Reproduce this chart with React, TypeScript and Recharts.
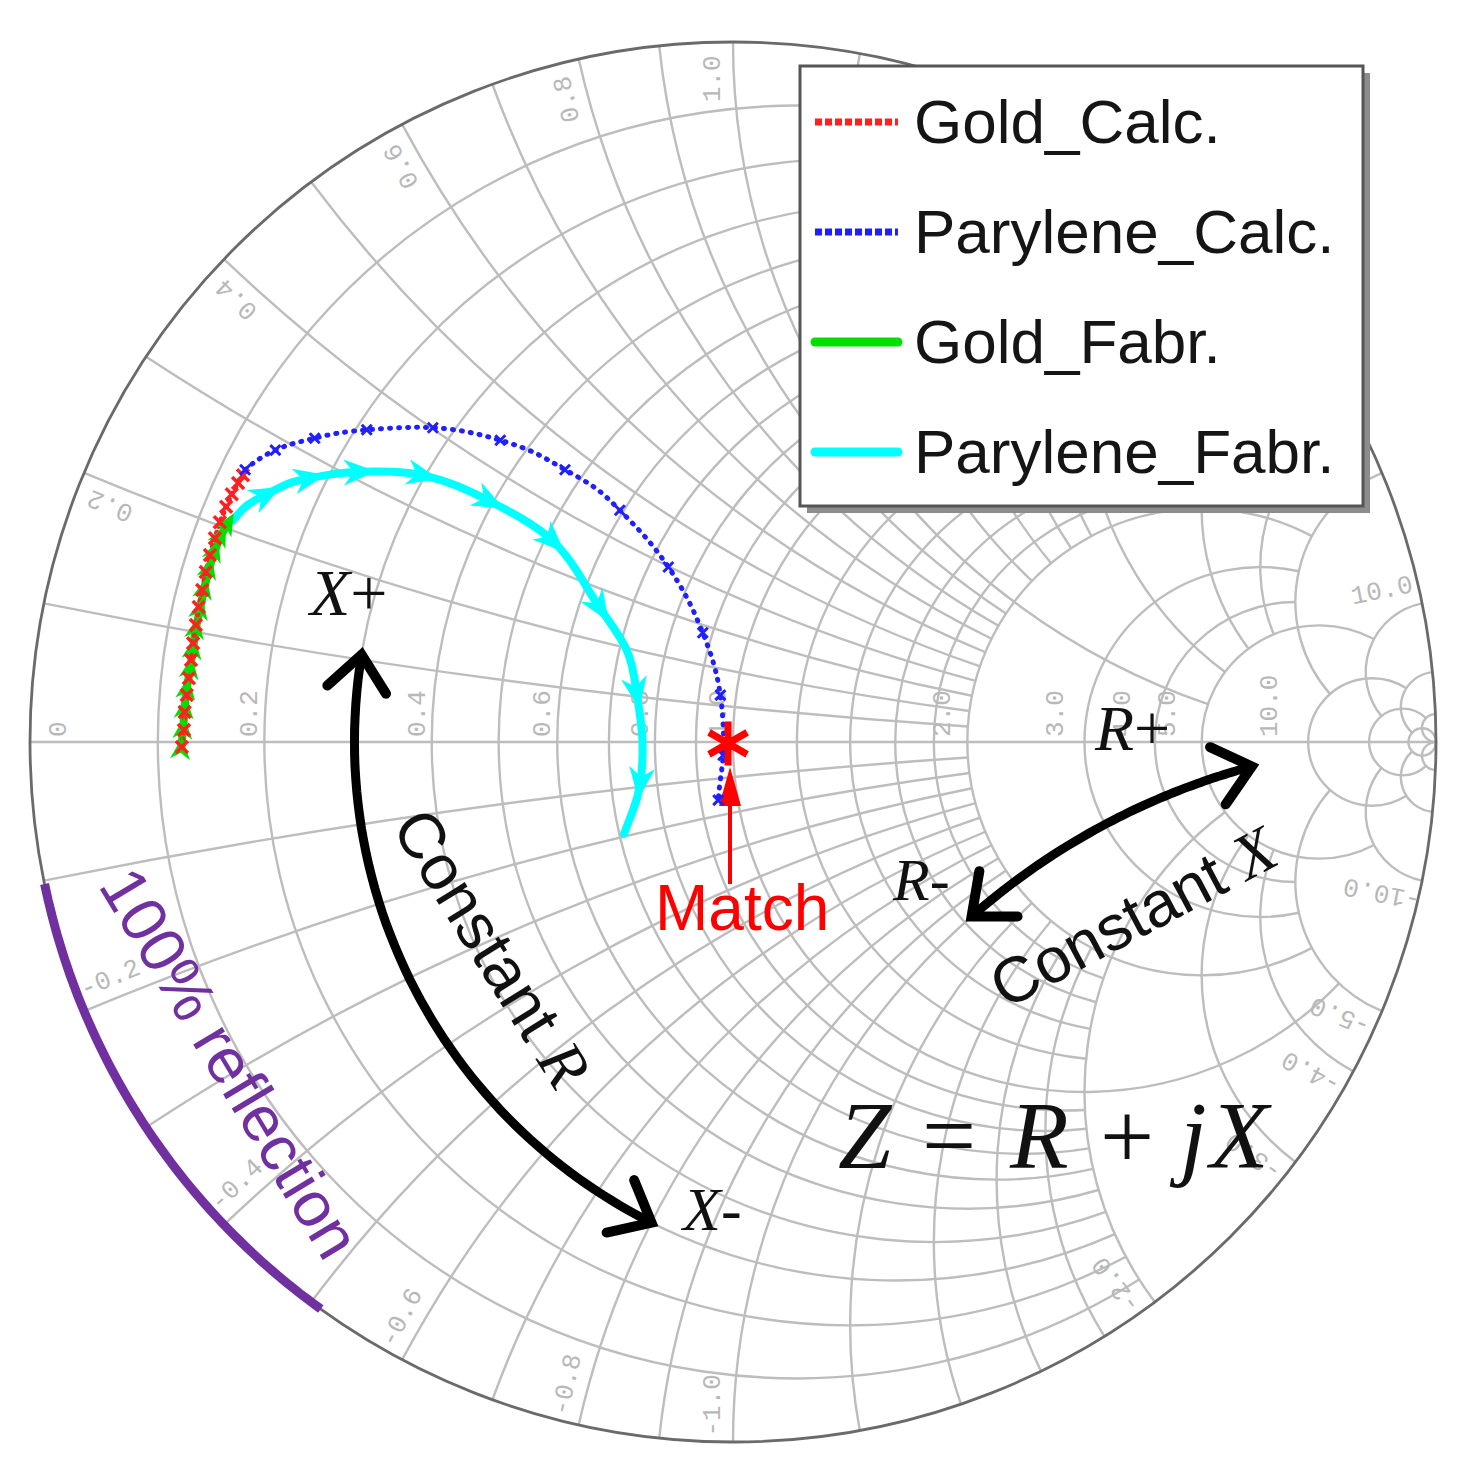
import React from "react";
import * as Recharts from "recharts";
import { ComposedChart, Line, Scatter, XAxis, YAxis, Customized } from "recharts";

const W = 1463;
const H = 1476;
const MARGIN = { top: 42, right: 27, bottom: 34, left: 30 };
const PW = W - MARGIN.left - MARGIN.right;
const PH = H - MARGIN.top - MARGIN.bottom;

// reflection coefficient points [re, im]
const goldCalc = [
  [-0.784, -0.007], [-0.781, 0.017], [-0.78, 0.043], [-0.777, 0.067], [-0.774, 0.091],
  [-0.771, 0.117], [-0.768, 0.141], [-0.764, 0.167], [-0.76, 0.193], [-0.755, 0.217],
  [-0.75, 0.243], [-0.744, 0.267], [-0.737, 0.291], [-0.73, 0.314], [-0.721, 0.336],
  [-0.713, 0.354], [-0.704, 0.37], [-0.697, 0.381],
];
const parylCalc = [
  [-0.694, 0.389], [-0.676, 0.403], [-0.651, 0.417], [-0.623, 0.427], [-0.595, 0.434],
  [-0.563, 0.441], [-0.521, 0.446], [-0.474, 0.449], [-0.427, 0.449], [-0.378, 0.443],
  [-0.331, 0.431], [-0.284, 0.414], [-0.239, 0.389], [-0.196, 0.363], [-0.161, 0.331],
  [-0.125, 0.293], [-0.092, 0.25], [-0.064, 0.203], [-0.043, 0.156], [-0.027, 0.11],
  [-0.018, 0.067], [-0.014, 0.024], [-0.014, -0.019], [-0.018, -0.054], [-0.021, -0.083],
];
const goldFabr = [
  [-0.785, -0.009], [-0.782, 0.02], [-0.78, 0.049], [-0.777, 0.077], [-0.772, 0.106],
  [-0.768, 0.134], [-0.764, 0.163], [-0.758, 0.191], [-0.752, 0.22], [-0.745, 0.249],
  [-0.737, 0.274], [-0.728, 0.296], [-0.718, 0.313],
];
const parylFabr = [
  [-0.711, 0.317], [-0.69, 0.339], [-0.663, 0.354], [-0.633, 0.369], [-0.602, 0.377],
  [-0.566, 0.383], [-0.531, 0.386], [-0.485, 0.386], [-0.441, 0.381], [-0.393, 0.366],
  [-0.346, 0.344], [-0.3, 0.319], [-0.256, 0.287], [-0.222, 0.244], [-0.189, 0.191],
  [-0.151, 0.131], [-0.137, 0.07], [-0.129, 0.006], [-0.132, -0.059], [-0.142, -0.097],
  [-0.155, -0.131],
];
const matchPoint = [[-0.007, -0.002]];

const seriesNames = ["Gold_Calc.", "Parylene_Calc.", "Gold_Fabr.", "Parylene_Fabr."];
const seriesColors = ["#ff2020", "#2020ff", "#00e000", "#00ffff"];
const seriesDotted = [true, true, false, false];

// smith grid: circle value and how far it runs along the other family
const gridValues = [0.1, 0.2, 0.3, 0.4, 0.5, 0.6, 0.7, 0.8, 0.9, 1, 1.2, 1.4, 1.6, 1.8, 2, 3, 4, 5, 10, 20, 50];
const gridExtents = [2, 2, 2, 2, 2, 2, 2, 2, 2, 5, 2, 2, 2, 2, 5, 5, 5, 10, 20, 50, Infinity];
const resistanceLabels = [0, 0.2, 0.4, 0.6, 0.8, 1, 2, 3, 4, 5, 10];
const reactanceLabels = [0.2, 0.4, 0.6, 0.8, 1, 2, 3, 4, 5, 10];

const cyanArrowAt = [2, 4, 6, 8, 10, 12, 14, 16, 18];

const toRows = (pts: number[][]) => pts.map(([re, im]) => ({ re, im }));
const goldCalcRows = toRows(goldCalc);
const parylCalcRows = toRows(parylCalc);
const goldFabrRows = toRows(goldFabr);
const parylFabrRows = toRows(parylFabr);
const matchRows = toRows(matchPoint);

const SANS = "'Liberation Sans', Arial, sans-serif";
const SERIF = "'Liberation Serif', 'Times New Roman', serif";
const MONO = "'Liberation Mono', 'DejaVu Sans Mono', monospace";

// z = r + jx  ->  reflection coefficient
const gam = (r: number, x: number) => {
  const d = (r + 1) * (r + 1) + x * x;
  return [(r * r + x * x - 1) / d, (2 * x) / d];
};

const plotAreaHook: any = (Recharts as any).usePlotArea;
function useArea() {
  const pa = plotAreaHook ? plotAreaHook() : null;
  const a = pa && pa.width > 0 ? pa : { x: MARGIN.left, y: MARGIN.top, width: PW, height: PH };
  const sx = a.width / 2;
  const sy = a.height / 2;
  return {
    sx,
    sy,
    X: (g: number) => a.x + (g + 1) * sx,
    Y: (g: number) => a.y + (1 - g) * sy,
  };
}

function SmithGrid() {
  const { sx, sy, X, Y } = useArea();
  const arcs: React.ReactNode[] = [];
  gridValues.forEach((v, i) => {
    const ext = gridExtents[i];
    const c = v / (1 + v);
    const rho = 1 / (1 + v);
    if (!isFinite(ext)) {
      arcs.push(<ellipse key={`r${i}`} cx={X(c)} cy={Y(0)} rx={rho * sx} ry={rho * sy} />);
    } else {
      const [x1, y1] = gam(v, -ext);
      const [x2, y2] = gam(v, ext);
      const alpha = Math.abs(Math.atan2(y1, x1 - c));
      const large = 2 * Math.PI - 2 * alpha > Math.PI ? 1 : 0;
      arcs.push(
        <path key={`r${i}`} d={`M${X(x1)},${Y(y1)} A${rho * sx},${rho * sy} 0 ${large} 1 ${X(x2)},${Y(y2)}`} />
      );
    }
    [1, -1].forEach((s) => {
      const [x1, y1] = gam(0, s * v);
      const [x2, y2] = isFinite(ext) ? gam(ext, s * v) : [1, 0];
      arcs.push(
        <path
          key={`x${i}${s}`}
          d={`M${X(x1)},${Y(y1)} A${sx / v},${sy / v} 0 0 ${s > 0 ? 0 : 1} ${X(x2)},${Y(y2)}`}
        />
      );
    });
  });

  const rLabels = resistanceLabels.map((r) => {
    const g = (r - 1) / (r + 1);
    const px = r === 0 ? X(-1) + 29 : X(g) - (14 + 30 * Math.max(0, g));
    const py = Y(0) - 5;
    return (
      <text key={`rl${r}`} x={px} y={py} transform={`rotate(-90 ${px} ${py})`} dominantBaseline="central">
        {r === 0 ? "0" : r.toFixed(1)}
      </text>
    );
  });

  const xLabels = reactanceLabels
    .flatMap((v) => [v, -v])
    .map((x) => {
      const th = Math.atan2(2 * x, x * x - 1);
      const t2 = th + Math.sign(x) * (1.7 * Math.PI) / 180;
      const px = X(0.948 * Math.cos(t2));
      const py = Y(0.948 * Math.sin(t2));
      const deg = (th * 180) / Math.PI;
      const rot = x > 0 ? -deg : 180 - deg;
      return (
        <text
          key={`xl${x}`}
          x={px}
          y={py}
          transform={`rotate(${rot} ${px} ${py})`}
          textAnchor="middle"
          dominantBaseline="central"
        >
          {x.toFixed(1)}
        </text>
      );
    });

  return (
    <g>
      <g fill="none" stroke="#bdbdbd" strokeWidth={2.4}>
        {arcs}
        <line x1={X(-1)} y1={Y(0)} x2={X(1)} y2={Y(0)} />
      </g>
      <ellipse cx={X(0)} cy={Y(0)} rx={sx} ry={sy} fill="none" stroke="#6a6a6a" strokeWidth={2.8} />
      <g fontFamily={MONO} fontSize={26} fill="#b8b8b8">
        {rLabels}
        {xLabels}
      </g>
    </g>
  );
}

const arrowDot =
  (rows: { re: number; im: number }[], color: string, len: number, wid: number, only?: number[]) =>
  (props: any) => {
    const { cx, cy, index } = props;
    const key = `a${index}`;
    if (cx == null || cy == null || (only && !only.includes(index))) return <g key={key} />;
    const p = rows[Math.max(index - 1, 0)];
    const n = rows[Math.min(index + 1, rows.length - 1)];
    const dx = ((n.re - p.re) * PW) / 2;
    const dy = (-(n.im - p.im) * PH) / 2;
    const ang = (Math.atan2(dy, dx) * 180) / Math.PI;
    return (
      <polygon
        key={key}
        points={`${len / 2},0 ${-len / 2},${wid / 2} ${-len / 5},0 ${-len / 2},${-wid / 2}`}
        transform={`translate(${cx},${cy}) rotate(${ang})`}
        fill={color}
      />
    );
  };

const crossDot = (color: string, s: number, step: number, sw: number) => (props: any) => {
  const { cx, cy, index } = props;
  if (cx == null || cy == null || index % step !== 0) return <g key={`c${index}`} />;
  return (
    <path
      key={`c${index}`}
      d={`M${cx - s},${cy - s}L${cx + s},${cy + s}M${cx - s},${cy + s}L${cx + s},${cy - s}`}
      stroke={color}
      strokeWidth={sw}
      fill="none"
    />
  );
};

const starShape = (props: any) => {
  const { cx, cy } = props;
  const L = 22;
  const arms = [90, 30, 150].map((d) => {
    const t = (d * Math.PI) / 180;
    return `M${cx - L * Math.cos(t)},${cy + L * Math.sin(t)}L${cx + L * Math.cos(t)},${cy - L * Math.sin(t)}`;
  });
  return <path d={arms.join("")} stroke="#ff0000" strokeWidth={7} fill="none" />;
};

function Notes() {
  const { X, Y } = useArea();
  const P = (g: number[]) => [X(g[0]), Y(g[1])];
  const N = 60;
  const line = (pts: number[][]) => "M" + pts.map((p) => `${p[0].toFixed(1)},${p[1].toFixed(1)}`).join("L");
  const rArc = Array.from({ length: N + 1 }, (_, k) => P(gam(0.3, 0.106 - 0.906 * (k / N))));
  const xArc = Array.from({ length: N + 1 }, (_, k) => P(gam(1.65 + 4.85 * (k / N), -1)));
  const rim = Array.from({ length: N + 1 }, (_, k) => {
    const t = ((-168.3 + (42.4 * k) / N) * Math.PI) / 180;
    return P([Math.cos(t), Math.sin(t)]);
  });

  const chevron = (pts: number[][], atEnd: boolean, key: string) => {
    const tip = atEnd ? pts[pts.length - 1] : pts[0];
    const from = atEnd ? pts[pts.length - 3] : pts[2];
    const ang = Math.atan2(tip[1] - from[1], tip[0] - from[0]);
    const L = 46;
    const s = 0.7;
    const a = [tip[0] - L * Math.cos(ang - s), tip[1] - L * Math.sin(ang - s)];
    const b = [tip[0] - L * Math.cos(ang + s), tip[1] - L * Math.sin(ang + s)];
    return (
      <path
        key={key}
        d={`M${a[0]},${a[1]}L${tip[0]},${tip[1]}L${b[0]},${b[1]}`}
        fill="none"
        stroke="#000"
        strokeWidth={10}
        strokeLinecap="round"
      />
    );
  };

  return (
    <g>
      <path d={line(rim)} fill="none" stroke="#7030a0" strokeWidth={9} />
      <path d={line(rArc)} fill="none" stroke="#000" strokeWidth={9} />
      {chevron(rArc, false, "r0")}
      {chevron(rArc, true, "r1")}
      <path d={line(xArc)} fill="none" stroke="#000" strokeWidth={9} />
      {chevron(xArc, false, "x0")}
      {chevron(xArc, true, "x1")}

      <line x1={730} y1={884} x2={730} y2={800} stroke="#ff0000" strokeWidth={4} />
      <polygon points="730,767 719,806 741,806" fill="#ff0000" />
      <text x={655} y={930} fontFamily={SANS} fontSize={64} fill="#ff0000">
        Match
      </text>

      <g fontFamily={SERIF} fill="#111">
        <text x={310} y={615} fontSize={66}>
          <tspan fontStyle="italic">X</tspan>
          <tspan>+</tspan>
        </text>
        <text x={683} y={1230} fontSize={62}>
          <tspan fontStyle="italic">X</tspan>
          <tspan>-</tspan>
        </text>
        <text x={1095} y={750} fontSize={64}>
          <tspan fontStyle="italic">R</tspan>
          <tspan>+</tspan>
        </text>
        <text x={893} y={900} fontSize={60}>
          <tspan fontStyle="italic">R</tspan>
          <tspan>-</tspan>
        </text>
        <text y={1168} fontSize={96}>
          <tspan x={838} fontStyle="italic">Z</tspan>
          <tspan x={922}>=</tspan>
          <tspan x={1010} fontStyle="italic">R</tspan>
          <tspan x={1100}>+</tspan>
          <tspan x={1180} fontStyle="italic">j</tspan>
          <tspan x={1210} fontStyle="italic">X</tspan>
        </text>
      </g>

      <text
        x={492}
        y={948}
        transform="rotate(58 492 948)"
        textAnchor="middle"
        dominantBaseline="central"
        fontFamily={SANS}
        fontSize={64}
        fill="#111"
      >
        Constant{" "}
        <tspan fontFamily={SERIF} fontStyle="italic">
          R
        </tspan>
      </text>
      <text
        x={1133}
        y={917}
        transform="rotate(-28 1133 917)"
        textAnchor="middle"
        dominantBaseline="central"
        fontFamily={SANS}
        fontSize={64}
        fill="#111"
      >
        Constant{" "}
        <tspan fontFamily={SERIF} fontStyle="italic">
          X
        </tspan>
      </text>
      <text
        x={230}
        y={1063}
        transform="rotate(59 230 1063)"
        textAnchor="middle"
        dominantBaseline="central"
        fontFamily={SANS}
        fontSize={64}
        fill="#7030a0"
      >
        100% reflection
      </text>

      <rect x={807} y={73} width={563} height={440} fill="#8c8c8c" />
      <rect x={800} y={66} width={563} height={440} fill="#fff" stroke="#555" strokeWidth={3} />
      {seriesNames.map((nm, i) => {
        const y = 122 + i * 110;
        return (
          <g key={nm}>
            <line
              x1={815}
              x2={898}
              y1={y}
              y2={y}
              stroke={seriesColors[i]}
              strokeWidth={seriesDotted[i] ? 7 : 9}
              strokeDasharray={seriesDotted[i] ? "7 3" : undefined}
              strokeLinecap={seriesDotted[i] ? "butt" : "round"}
            />
            <text x={914} y={y + 21} fontSize={62} fontFamily={SANS} fill="#151515">
              {nm}
            </text>
          </g>
        );
      })}
    </g>
  );
}

export default function App() {
  return (
    <div style={{ position: "absolute", left: 0, top: 0, width: W, height: H, background: "#fff" }}>
      <ComposedChart width={W} height={H} margin={MARGIN}>
        <XAxis type="number" dataKey="re" domain={[-1, 1]} hide allowDataOverflow />
        <YAxis type="number" dataKey="im" domain={[-1, 1]} hide allowDataOverflow />
        <Customized component={SmithGrid} />
        <Line
          data={goldFabrRows}
          dataKey="im"
          name={seriesNames[2]}
          type="linear"
          stroke={seriesColors[2]}
          strokeWidth={8}
          strokeLinecap="round"
          dot={arrowDot(goldFabrRows, seriesColors[2], 22, 20)}
          activeDot={false}
          isAnimationActive={false}
        />
        <Line
          data={parylFabrRows}
          dataKey="im"
          name={seriesNames[3]}
          type="natural"
          stroke={seriesColors[3]}
          strokeWidth={8}
          strokeLinecap="round"
          dot={arrowDot(parylFabrRows, seriesColors[3], 32, 26, cyanArrowAt)}
          activeDot={false}
          isAnimationActive={false}
        />
        <Line
          data={goldCalcRows}
          dataKey="im"
          name={seriesNames[0]}
          type="linear"
          stroke={seriesColors[0]}
          strokeWidth={5}
          strokeDasharray="1 6"
          strokeLinecap="round"
          dot={crossDot(seriesColors[0], 6, 1, 3.5)}
          activeDot={false}
          isAnimationActive={false}
        />
        <Line
          data={parylCalcRows}
          dataKey="im"
          name={seriesNames[1]}
          type="natural"
          stroke={seriesColors[1]}
          strokeWidth={5}
          strokeDasharray="1 8"
          strokeLinecap="round"
          dot={crossDot(seriesColors[1], 5, 2, 3)}
          activeDot={false}
          isAnimationActive={false}
        />
        <Scatter data={matchRows} dataKey="im" shape={starShape} isAnimationActive={false} />
        <Customized component={Notes} />
      </ComposedChart>
    </div>
  );
}
